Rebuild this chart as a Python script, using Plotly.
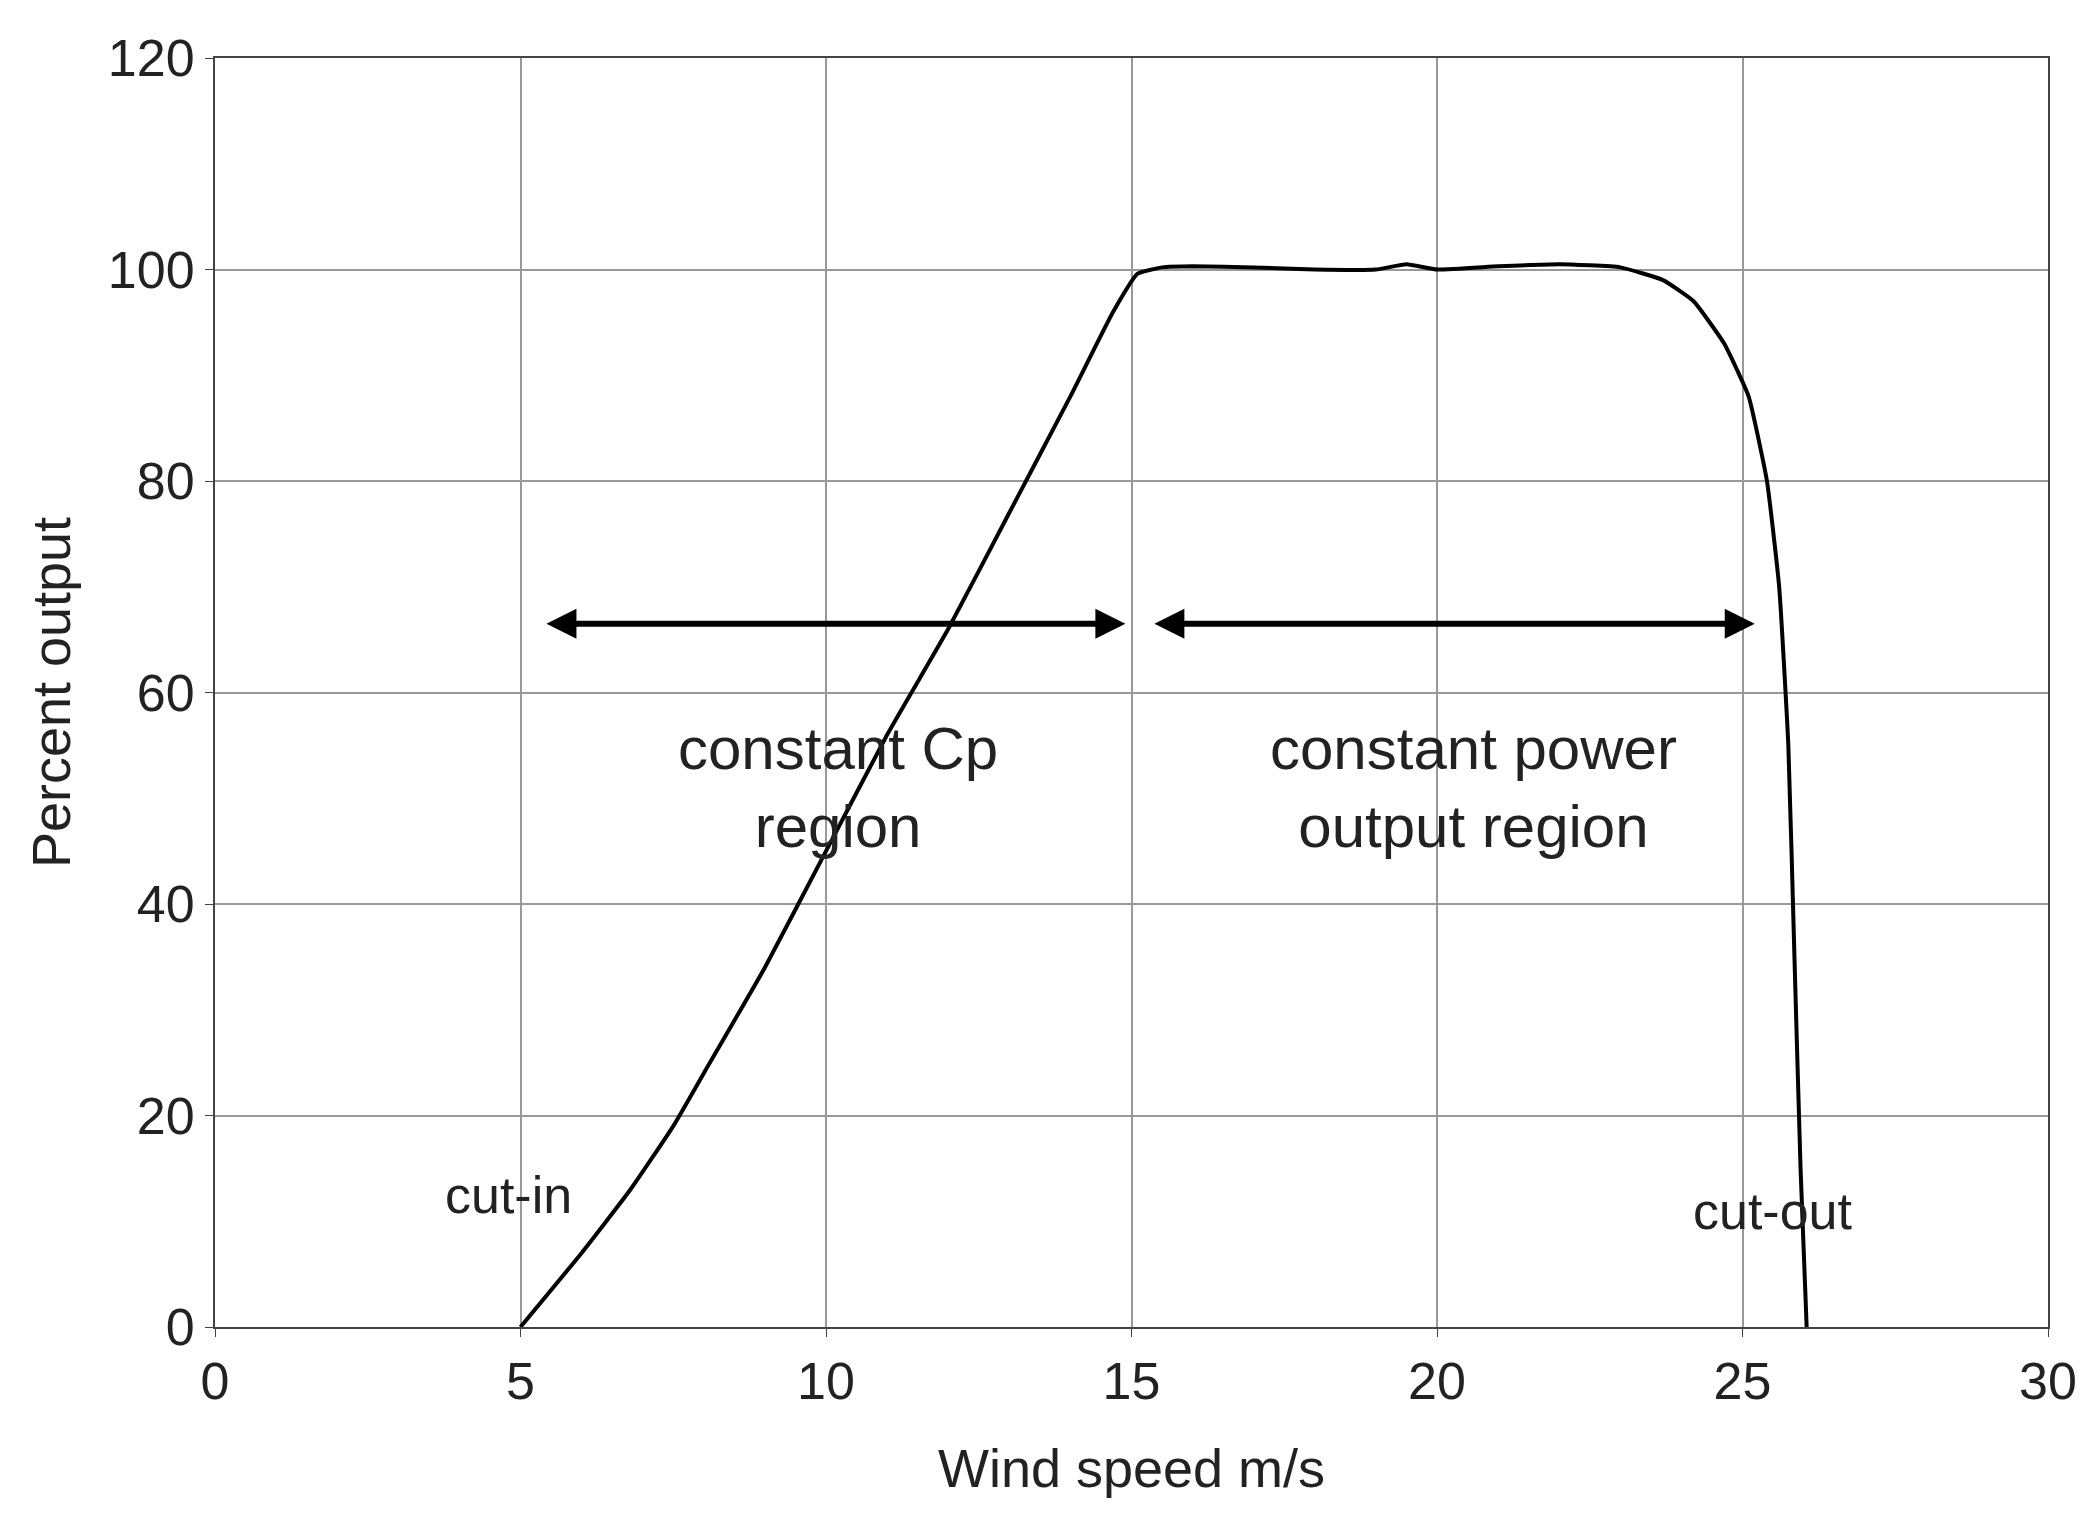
import plotly.graph_objects as go

wind_speed = [5, 6, 6.8, 7.5, 8, 9, 10, 11, 12, 13, 14, 14.7, 15.1, 15.5, 16, 17, 18, 19, 19.5, 20, 21, 22, 23, 23.7,
              24.2, 24.7, 25.1, 25.4, 25.6, 25.75, 25.85, 25.95, 26.05]
percent_output = [0, 7, 13, 19, 24, 34, 45, 56, 66, 77, 88, 96, 99.6, 100.2, 100.3, 100.2, 100, 100, 100.5, 100,
                  100.3, 100.5, 100.2, 99, 97, 93, 88, 80, 70, 55, 35, 15, 0]

fig = go.Figure(go.Scatter(x=wind_speed, y=percent_output, mode="lines",
                           line=dict(color="black", width=4, shape="spline", smoothing=0.4)))

arrows = [(5.4, 14.9), (15.35, 25.2)]
for x0, x1 in arrows:
    fig.add_annotation(x=x1, y=66.5, ax=x0, ay=66.5, xref="x", yref="y", axref="x", ayref="y",
                       text="", showarrow=True, arrowhead=2, arrowside="end+start",
                       arrowsize=1.0, arrowwidth=6, arrowcolor="black")

labels = [
    (10.2, 51, "constant Cp<br>region"),
    (20.6, 51, "constant power<br>output region"),
    (4.8, 12.5, "cut-in"),
    (25.5, 11, "cut-out"),
]
for x, y, t in labels:
    fig.add_annotation(x=x, y=y, text=t, showarrow=False, xref="x", yref="y",
                       font=dict(size=60 if "constant" in t else 52, color="#222"))

axis = dict(showline=True, linecolor="#444", linewidth=2, mirror=True, gridcolor="#999",
            gridwidth=2, ticks="outside", ticklen=8, tickcolor="#444", zeroline=False,
            tickfont=dict(size=52, color="#222"))
fig.update_xaxes(range=[0, 30], dtick=5, title=dict(text="Wind speed m/s", font=dict(size=54), standoff=40), **axis)
fig.update_yaxes(range=[0, 120], dtick=20, title=dict(text="Percent output", font=dict(size=54), standoff=20), **axis)
fig.update_layout(width=2085, height=1534, plot_bgcolor="white", paper_bgcolor="white", showlegend=False,
                  font=dict(family="Liberation Sans, Arial", color="#222"),
                  margin=dict(l=207, r=45, t=50, b=215))
fig.write_html("out.html")
